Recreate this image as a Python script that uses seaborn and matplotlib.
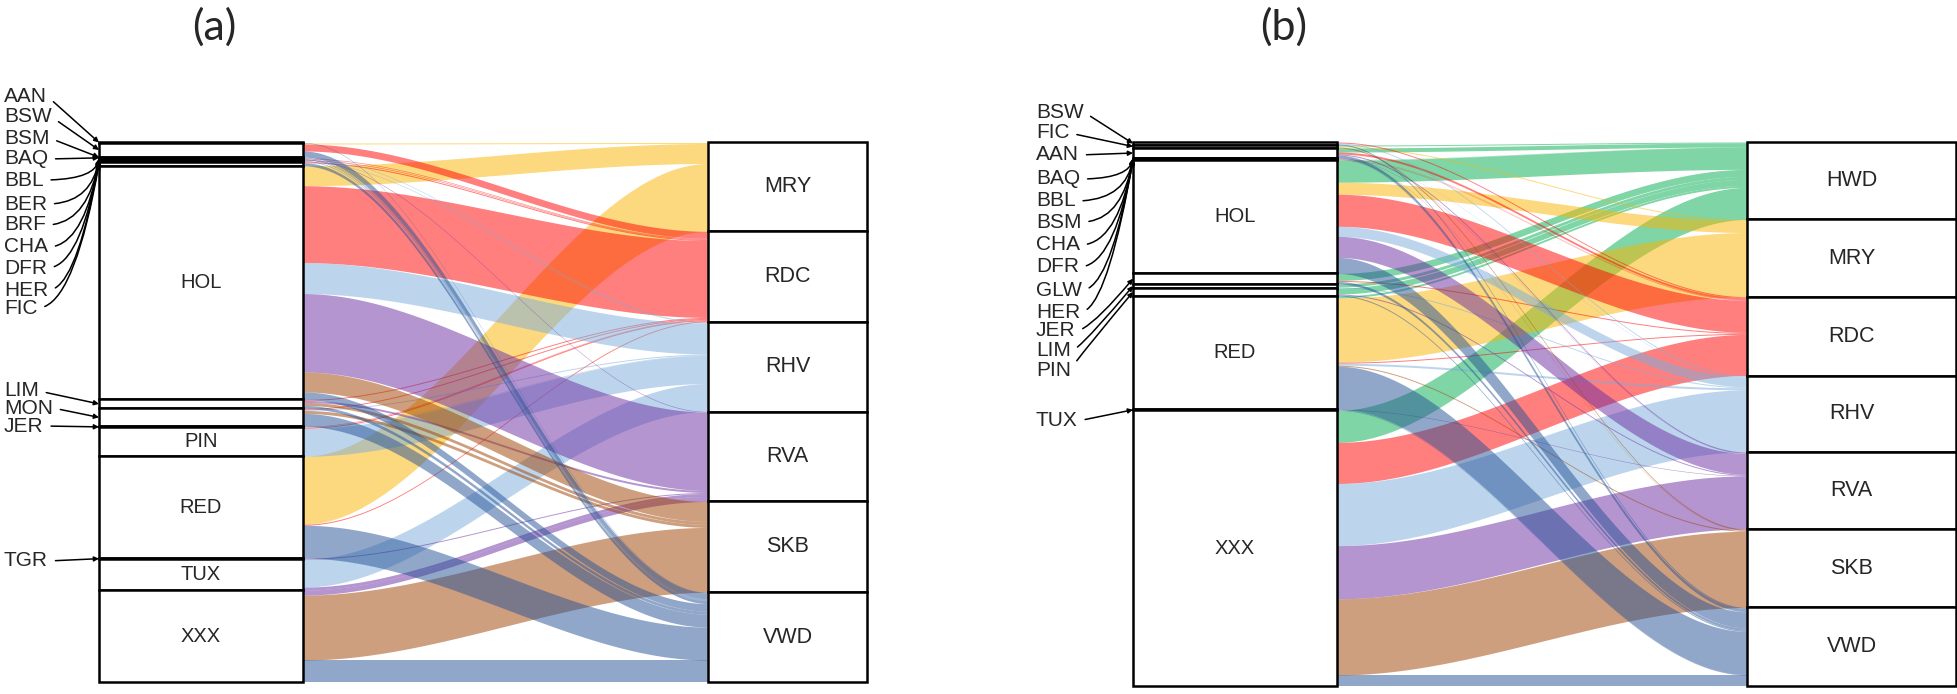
import numpy as np
import matplotlib
matplotlib.use("Agg")
import matplotlib.pyplot as plt
from matplotlib.patches import Rectangle
import seaborn as sns

sns.set_theme(style="white")
plt.rcParams['font.family'] = ['Liberation Sans', 'DejaVu Sans']

W, H = 1958, 694

# --- panel (a) data: rows = sources, columns = targets ---
a_sources = ["AAN", "BSW", "BSM", "BAQ", "BBL", "BER", "BRF", "CHA", "DFR", "HER",
             "FIC", "HOL", "LIM", "MON", "JER", "PIN", "RED", "TGR", "TUX", "XXX"]
a_targets = ["MRY", "RDC", "RHV", "RVA", "SKB", "VWD"]
a_flows = [
    [0.5, 0, 0, 0, 0, 0.5],      # AAN
    [1, 7, 0, 0, 0, 6],          # BSW
    [0, 0, 0.6, 0, 0, 0],        # BSM
    [0, 0, 0, 0, 0, 0.6],        # BAQ
    [0, 0.6, 0, 0, 0, 0],        # BBL
    [0, 0, 0, 0, 0, 0.6],        # BER
    [0, 0, 0, 0.6, 0, 0],        # BRF
    [0, 0.6, 0, 0, 0, 0],        # CHA
    [0, 0, 0, 0, 0, 0.6],        # DFR
    [0, 0, 0.6, 0, 0, 0],        # HER
    [0, 1, 0, 0, 0, 3],          # FIC
    [20, 77, 31, 78.5, 20, 7.5], # HOL
    [0, 1, 0, 2, 3, 3],          # LIM
    [0, 1, 1, 0, 3, 13],         # MON
    [0, 0.5, 0.5, 0, 0, 0],      # JER
    [0, 1, 28, 0, 0, 0],         # PIN
    [68, 1, 0, 0, 0, 33],        # RED
    [0, 0, 0, 1, 0, 0],          # TGR
    [0, 0, 28, 3, 0, 0],         # TUX
    [0, 0, 0, 5, 65, 22],        # XXX
]
a_inside = ["HOL", "PIN", "RED", "TUX", "XXX"]

# --- panel (b) data ---
b_sources = ["BSW", "FIC", "AAN", "BAQ", "BBL", "BSM", "CHA", "DFR", "GLW", "HER",
             "HOL", "JER", "LIM", "PIN", "RED", "TUX", "XXX"]
b_targets = ["HWD", "MRY", "RDC", "RHV", "RVA", "SKB", "VWD"]
b_flows = [
    [0, 0, 1, 1, 0, 0, 1],         # BSW
    [1, 1, 0, 0, 0, 1, 0],         # FIC
    [4, 0, 2, 0, 1, 0, 3],         # AAN
    [0, 0, 0, 0, 0.3, 0, 0],       # BAQ
    [0, 0, 0, 0, 0, 0, 0.3],       # BBL
    [0, 0, 0.3, 0, 0, 0, 0],       # BSM
    [0, 0, 0, 0, 0, 0.3, 0],       # CHA
    [0, 0, 0, 0.3, 0, 0, 0],       # DFR
    [0.3, 0, 0, 0, 0, 0, 0],       # GLW
    [0, 0, 0.3, 0, 0, 0, 0],       # HER
    [22, 12, 32, 10, 21, 0, 16],   # HOL
    [7, 0, 1, 0, 0, 0, 2.5],       # JER
    [3, 0, 0, 1, 0, 0, 0],         # LIM
    [6, 0, 0, 0, 1, 0, 1],         # PIN
    [2, 64, 1, 2, 0, 1, 43],       # RED
    [0, 0, 0, 0, 0.5, 0, 0.5],     # TUX
    [32, 0, 41, 62, 53, 76, 11],   # XXX
]
b_inside = ["HOL", "RED", "XXX"]

target_colors = {"HWD": "#00AD4D", "MRY": "#FBB500", "RDC": "#FF0000",
                 "RHV": "#7AADDB", "RVA": "#6B2DA1", "SKB": "#9F4100",
                 "VWD": "#255195"}

# external labels: (name, label y in px from top, connection style)
curve = "angle3,angleA=0,angleB=80"
a_labels = [("AAN", 96, "arc3"), ("BSW", 117, "arc3"), ("BSM", 138, "arc3"),
            ("BAQ", 159, "arc3"), ("BBL", 180, curve), ("BER", 204, curve),
            ("BRF", 225, curve), ("CHA", 247, curve), ("DFR", 268, curve),
            ("HER", 290, curve), ("FIC", 308, curve),
            ("LIM", 391, "arc3"), ("MON", 408, "arc3"), ("JER", 426, "arc3"),
            ("TGR", 561, "arc3")]
b_labels = [("BSW", 112, "arc3"), ("FIC", 133, "arc3"), ("AAN", 155, "arc3"),
            ("BAQ", 179, curve), ("BBL", 201, curve), ("BSM", 222, curve),
            ("CHA", 245, curve), ("DFR", 267, curve), ("GLW", 290, curve),
            ("HER", 312, curve), ("JER", 331, "angle3,angleA=0,angleB=50"),
            ("LIM", 351, "angle3,angleA=0,angleB=50"),
            ("PIN", 370, "angle3,angleA=0,angleB=50"), ("TUX", 421, "arc3")]


def draw_alluvial(ax, sources, targets, flows, lbox_w, rbox_x, inside, labels, label_x):
    F = np.array(flows, dtype=float)
    src_tot = F.sum(axis=1)
    tgt_tot = F.sum(axis=0)
    src_top = np.concatenate([[0], np.cumsum(src_tot)[:-1]])
    tgt_top = np.concatenate([[0], np.cumsum(tgt_tot)[:-1]])
    left_y = src_top[:, None] + np.cumsum(F, axis=1) - F
    right_y = tgt_top[None, :] + np.cumsum(F, axis=0) - F

    x = np.linspace(lbox_w, rbox_x, 200)
    s = (x - lbox_w) / (rbox_x - lbox_w)
    s = 3 * s ** 2 - 2 * s ** 3
    # later strata are drawn first, so the upper ones sit on top
    for i in reversed(range(len(sources))):
        for j, tgt in enumerate(targets):
            if F[i, j] <= 0:
                continue
            top = left_y[i, j] + (right_y[i, j] - left_y[i, j]) * s
            ax.fill_between(x, top, top + F[i, j], color=target_colors[tgt],
                            alpha=0.5, lw=0, zorder=1)

    # strata boxes
    for i, name in enumerate(sources):
        ax.add_patch(Rectangle((0, src_top[i]), lbox_w, src_tot[i], fc="white",
                               ec="black", lw=1.8, zorder=3, clip_on=False))
        if name in inside:
            ax.text(lbox_w / 2, src_top[i] + src_tot[i] / 2, name, ha="center",
                    va="center", fontsize=14.5, zorder=4)
    for j, name in enumerate(targets):
        ax.add_patch(Rectangle((rbox_x, tgt_top[j]), 1 - rbox_x, tgt_tot[j], fc="white",
                               ec="black", lw=1.8, zorder=3, clip_on=False))
        ax.text((rbox_x + 1) / 2, tgt_top[j] + tgt_tot[j] / 2, name, ha="center",
                va="center", fontsize=15.5, zorder=4)

    # leader lines for small strata
    for name, ly, cs in labels:
        i = sources.index(name)
        yc = src_top[i] + src_tot[i] / 2
        ax.annotate(name, xy=(0, yc), xycoords="data",
                    xytext=(label_x, H - ly), textcoords="figure pixels",
                    ha="left", va="center", fontsize=15, annotation_clip=False,
                    arrowprops=dict(arrowstyle="-|>", color="black", lw=1.1,
                                    mutation_scale=7, shrinkA=3, shrinkB=0,
                                    relpos=(1, 0.5), connectionstyle=cs))

    ax.set_xlim(0, 1)
    ax.set_ylim(F.sum(), 0)
    ax.axis("off")


fig = plt.figure(figsize=(W / 100, H / 100), dpi=100)

ax_a = fig.add_axes([99 / W, 1 - 682 / H, 768 / W, 540 / H])
draw_alluvial(ax_a, a_sources, a_targets, a_flows, 204 / 768, 609 / 768,
              a_inside, a_labels, 4)

ax_b = fig.add_axes([1133 / W, 1 - 686 / H, 823 / W, 544 / H])
draw_alluvial(ax_b, b_sources, b_targets, b_flows, 204 / 823, 614 / 823,
              b_inside, b_labels, 1036)

fig.text(214 / W, 1 - 27 / H, "(a)", ha="center", va="center", fontsize=31,
         family=["Lato", "DejaVu Sans"])
fig.text(1284 / W, 1 - 27 / H, "(b)", ha="center", va="center", fontsize=31,
         family=["Lato", "DejaVu Sans"])

fig.savefig("out.png", dpi=100)
